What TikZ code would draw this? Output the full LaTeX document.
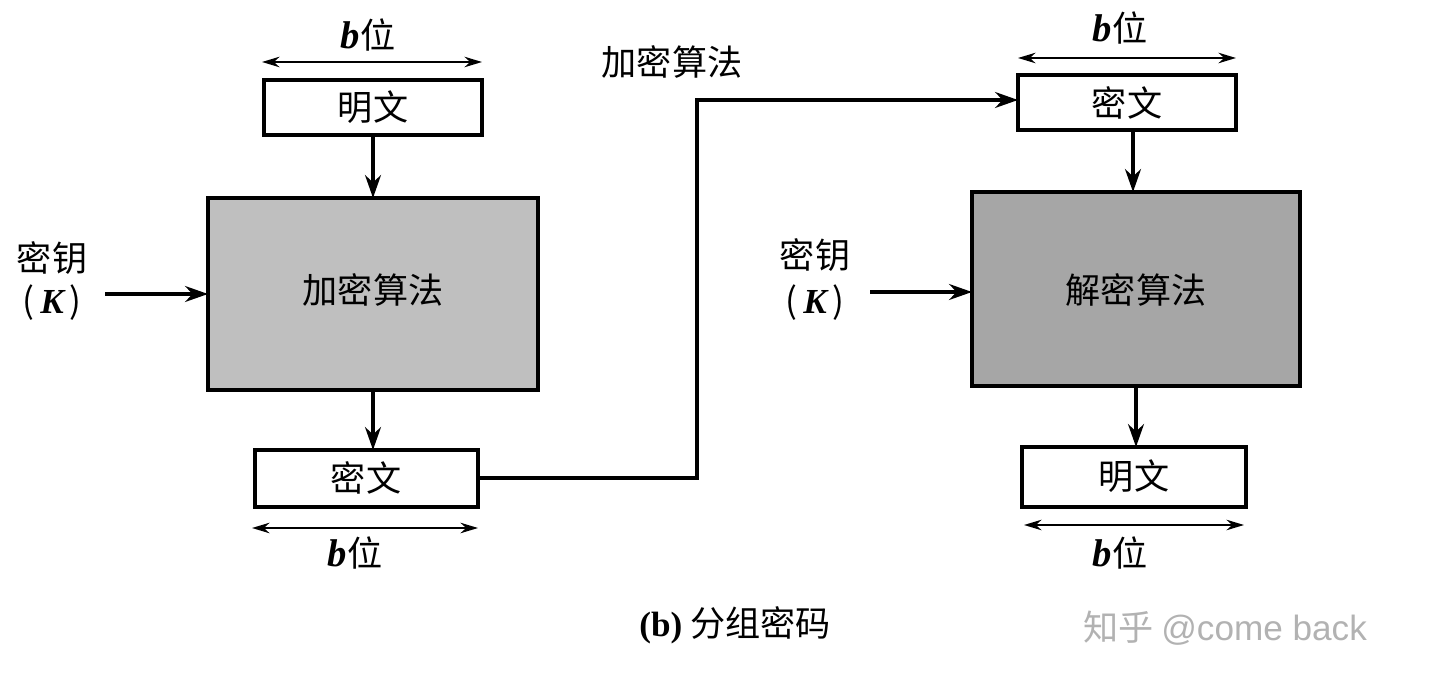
\documentclass[tikz,border=0pt]{standalone}
\usepackage{fontspec}
\setmainfont{Liberation Serif}
\newfontfamily\cjk{Noto Sans CJK SC}
\usetikzlibrary{positioning,arrows.meta}
\tikzset{
  box/.style={draw,line width=2.2pt,inner sep=0pt},
  algo/.style={box,fill=black!25},
  flow/.style={line width=2.2pt,-{Stealth[length=13pt,width=9pt]}},
  span/.style={line width=1pt,{Stealth[length=10pt,width=6pt]}-{Stealth[length=10pt,width=6pt]}},
  lbl/.style={font=\fontsize{20}{24}\selectfont\cjk},
}
\newcommand{\bwei}{{\rmfamily\fontsize{22}{24}\selectfont\bfseries\itshape b}{\cjk 位}}
\begin{document}
\begin{tikzpicture}[x=0.02cm,y=-0.02cm]
\useasboundingbox (0,0) rectangle (1440,685);
% left side
\draw[box] (264,80) rectangle (482,135);
\node[lbl] (pl) at (373,107) {明文};
\draw[algo] (208,198) rectangle (538,390);
\node[lbl] (enc) at (373,290) {加密算法};
\coordinate (encT) at (373,198); \coordinate (encB) at (373,390); \coordinate (encL) at (208,294);
\draw[box] (255,450) rectangle (478,507);
\node[lbl] (cl) at (366,478) {密文};
\draw[flow] (373,135) -- (encT);
\draw[flow] (encB) -- (373,450);
\coordinate (a1) at (262,62); \coordinate (a2) at (482,62);
\draw[span] (a1) -- (a2);
\node[lbl] (bl1) at (368,35) {\bwei};
\coordinate (a3) at (252,528); \coordinate (a4) at (478,528);
\draw[span] (a3) -- (a4);
\node[lbl] (bl2) at (355,553) {\bwei};
\node[lbl] (kl1) at (52,258) {密钥};
\node[lbl] (kl2) at (52,303) {(\,{\rmfamily\bfseries\itshape K}\,)};
\coordinate (kls) at (105,294);
\draw[flow] (kls) -- (encL);
\node[lbl] (title) at (672,62) {加密算法};
% connector
\coordinate (cr) at (478,478);
\draw[flow] (cr) -- (697,478) -- (697,100) -- (1018,100);
% right side
\draw[box,fill=white] (1018,75) rectangle (1236,130);
\node[lbl] (cr2) at (1127,103) {密文};
\draw[algo,fill=black!35] (972,192) rectangle (1300,386);
\node[lbl] (dec) at (1136,290) {解密算法};
\draw[box] (1022,447) rectangle (1246,507);
\node[lbl] (pr) at (1134,476) {明文};
\draw[flow] (1133,130) -- (1133,192);
\draw[flow] (1136,386) -- (1136,447);
\coordinate (a5) at (1018,58); \coordinate (a6) at (1236,58);
\draw[span] (a5) -- (a6);
\node[lbl] (br1) at (1120,28) {\bwei};
\coordinate (a7) at (1024,525); \coordinate (a8) at (1244,525);
\draw[span] (a7) -- (a8);
\node[lbl] (br2) at (1120,553) {\bwei};
\node[lbl] (kr1) at (815,255) {密钥};
\node[lbl] (kr2) at (815,303) {(\,{\rmfamily\bfseries\itshape K}\,)};
\coordinate (krs) at (870,292);
\draw[flow] (krs) -- (972,292);
% caption
\node[lbl] (cap) at (735,625) {{\rmfamily\bfseries (b)} 分组密码};
\node[lbl,text=black!30] (wm) at (1225,628) {知乎 {\fontspec{Liberation Sans}@come back}};
\end{tikzpicture}
\end{document}
